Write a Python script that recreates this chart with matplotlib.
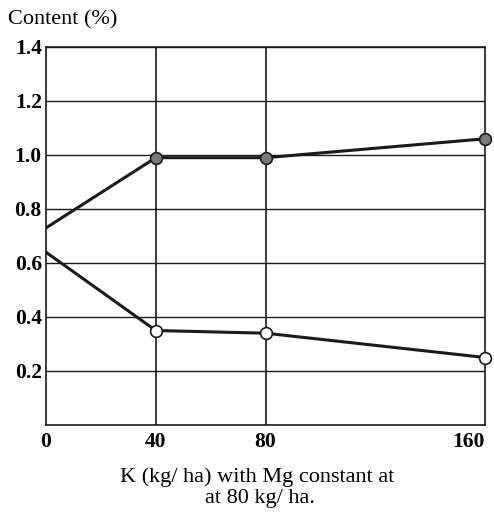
import matplotlib.pyplot as plt

# K rate (kg/ha) and content (%)
k_rate = [0, 40, 80, 160]
filled_content = [0.73, 0.99, 0.99, 1.06]
open_content = [0.64, 0.35, 0.34, 0.25]

y_ticks = [0.2, 0.4, 0.6, 0.8, 1.0, 1.2, 1.4]
y_tick_labels = ["0.2", "0.4", "0.6", "0.8", "1.0", "1.2", "1.4"]
x_ticks = [0, 40, 80, 160]

plt.rcParams['font.family'] = ['Liberation Serif', 'DejaVu Serif']

fig = plt.figure(figsize=(4.94, 5.19), dpi=100)
ax = fig.add_axes([46 / 494, 1 - 425 / 519, 439 / 494, 378 / 519])

# lines without a marker at x=0, markers only at the measured rates
ax.plot(k_rate, filled_content, color="#1a1a1a", linewidth=2.2, zorder=3)
ax.plot(k_rate[1:], filled_content[1:], linestyle="none", marker="o",
        markersize=8.5, markerfacecolor="#7a7a7a", markeredgecolor="#1a1a1a",
        markeredgewidth=1.2, zorder=4, clip_on=False)
ax.plot(k_rate, open_content, color="#1a1a1a", linewidth=2.2, zorder=3)
ax.plot(k_rate[1:], open_content[1:], linestyle="none", marker="o",
        markersize=8.5, markerfacecolor="white", markeredgecolor="#1a1a1a",
        markeredgewidth=1.2, zorder=4, clip_on=False)

ax.set_xlim(0, 160)
ax.set_ylim(0, 1.4)
ax.set_xticks(x_ticks)
ax.set_xticklabels([str(v) for v in x_ticks], fontsize=15.5, fontweight="bold")
# keep the last label inside the picture
ax.get_xticklabels()[-1].set_ha("right")
ax.get_xticklabels()[-1].set_x(0)
ax.set_yticks(y_ticks)
ax.set_yticklabels(y_tick_labels, fontsize=15.5, fontweight="bold")
ax.tick_params(axis="y", length=0, pad=3)
ax.tick_params(axis="x", length=0, pad=5)

for y in y_ticks:
    ax.axhline(y, color="#1a1a1a", linewidth=1.0, zorder=1)
for x in [40, 80]:
    ax.axvline(x, color="#1a1a1a", linewidth=1.2, zorder=1)
for s in ax.spines.values():
    s.set_linewidth(1.2)
    s.set_color("#1a1a1a")

fig.text(8 / 494, 1 - 20 / 519, "Content (%)", fontsize=16, va="center", ha="left")
fig.text(257 / 494, 1 - 477 / 519, "K (kg/ ha) with Mg constant at",
         fontsize=16, ha="center", va="center")
fig.text(260 / 494, 1 - 499 / 519, "at 80 kg/ ha.",
         fontsize=16, ha="center", va="center")

fig.savefig("out.png", dpi=100)
